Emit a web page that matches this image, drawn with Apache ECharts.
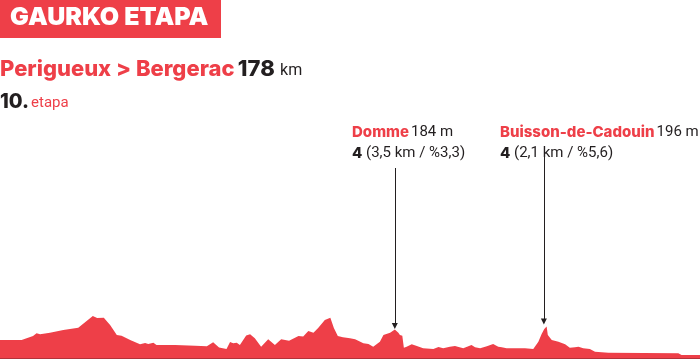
<!DOCTYPE html>
<html>
<head>
<meta charset="utf-8">
<script src="https://cdn.jsdelivr.net/npm/echarts@6/dist/echarts.min.js"></script>
<style>html,body{margin:0;padding:0;background:#fff}#c{width:700px;height:360px}</style>
</head>
<body>
<div id="c"></div>
<script>
// Stage profile: distance (km) and elevation (m)
var km = [0, 5.5, 8.4, 9.3, 10.2, 12.7, 16.1, 19.9, 23.6, 24.7, 26.4, 28.0, 29.7, 30.9, 33.1, 35.6, 36.9, 37.7, 39.0, 39.8,
  44.5, 49.6, 52.6, 54.2, 55.7, 57.6, 58.5, 59.3, 60.2, 61.0, 62.6, 63.6, 64.8, 66.4, 68.2, 69.9, 71.5, 73.5, 75.9, 77.1,
  78.4, 79.7, 80.9, 82.6, 84.0, 84.9, 85.9, 87.2, 89.0, 90.3, 92.4, 93.7, 94.9, 96.6, 97.5, 99.2, 100.4, 101.3, 101.7, 102.3,
  102.7, 103.4, 104.7, 106.0, 107.6, 110.2, 111.5, 112.7, 114.4, 115.7, 117.8, 119.9, 120.8, 122.1, 123.8, 125.4, 126.7, 127.6, 128.0, 128.8,
  133.5, 135.6, 136.9, 137.7, 138.4, 139.0, 139.3, 140.3, 142.0, 143.7, 144.9, 146.2, 147.1, 148.3, 150.0, 151.3, 154.7, 172.5, 173.3, 178];
var elevation = [142, 142, 158, 169, 165, 171, 182, 191, 238, 230, 231, 202, 162, 159, 142, 125, 130, 126, 131, 122,
  122, 119, 117, 133, 112, 106, 134, 129, 131, 122, 160, 165, 149, 115, 145, 122, 145, 139, 158, 156,
  178, 171, 190, 222, 231, 190, 158, 153, 149, 145, 129, 126, 115, 135, 162, 171, 184, 171, 162, 159,
  111, 115, 125, 118, 109, 106, 114, 109, 115, 118, 109, 122, 113, 109, 117, 126, 115, 113, 118, 109,
  109, 106, 135, 165, 186, 196, 162, 142, 135, 125, 111, 113, 115, 109, 106, 95, 91, 89, 82, 82];

// Climbs
var climbNames = ['Domme', 'Buisson-de-Cadouin'];
var climbAlt = ['184 m', '196 m'];
var climbCat = ['4', '4'];
var climbInfo = ['(3,5 km / %3,3)', '(2,1 km / %5,6)'];
var climbKm = [100.4, 138.3];
var arrowFrom = [830, 882];
var arrowTo = [198, 216];

var RED = '#ee3f48', DARK = '#231f20';

var chart = echarts.init(document.getElementById('c'), null, {renderer: 'canvas'});
var data = km.map(function (k, i) { return [k, elevation[i]]; });

var markLines = climbKm.map(function (k, i) {
  return [{coord: [k, arrowFrom[i]]}, {coord: [k, arrowTo[i]]}];
});

var labelX = [352, 500];
var graphics = [
  {type: 'rect', left: 0, top: 0, shape: {width: 221, height: 38}, style: {fill: RED}},
  {type: 'text', left: 10, top: 5, style: {text: 'GAURKO ETAPA', fill: '#fff', font: '900 25px Inter'}},
  {type: 'text', left: 0, top: 58, style: {
    text: '{a|Perigueux > Bergerac} {b|178} {c|km}',
    rich: {
      a: {fill: RED, font: '800 22px Inter'},
      b: {fill: DARK, font: '800 22px Inter'},
      c: {fill: DARK, font: '400 16px Roboto', padding: [3, 0, 0, 2]}
    }}},
  {type: 'text', left: 0, top: 92, style: {
    text: '{a|10.}{b|etapa}',
    rich: {
      a: {fill: DARK, font: '800 20px Inter'},
      b: {fill: RED, font: '400 15px Roboto', padding: [3, 0, 0, 2]}
    }}}
];
climbNames.forEach(function (n, i) {
  graphics.push({type: 'text', left: labelX[i], top: 125, style: {
    text: '{a|' + n + '}{b|' + climbAlt[i] + '}',
    rich: {
      a: {fill: RED, font: '800 15px Inter'},
      b: {fill: DARK, font: '400 15px Roboto', padding: [0, 0, 0, 2]}
    }}});
  graphics.push({type: 'text', left: labelX[i], top: 146, style: {
    text: '{a|' + climbCat[i] + '}{b| ' + climbInfo[i] + '}',
    rich: {
      a: {fill: DARK, font: '800 15px Inter'},
      b: {fill: DARK, font: '400 15px Roboto'}
    }}});
});

chart.setOption({
  animation: false,
  grid: {left: 0, right: 0, top: 0, bottom: 2, containLabel: false},
  xAxis: {type: 'value', min: 0, max: 178, show: true,
    axisLine: {show: true, onZero: false, lineStyle: {color: '#b3323a', width: 2}},
    axisTick: {show: false}, axisLabel: {show: false}, splitLine: {show: false}},
  yAxis: {type: 'value', min: 70, max: 1502, show: false, splitLine: {show: false}},
  graphic: graphics,
  series: [{
    type: 'line',
    data: data,
    symbol: 'none',
    lineStyle: {width: 0, color: RED},
    areaStyle: {color: RED, opacity: 1},
    markLine: {
      silent: true,
      symbol: ['none', 'triangle'],
      symbolSize: [6, 6],
      label: {show: false},
      lineStyle: {color: DARK, width: 1, type: 'solid'},
      data: markLines
    }
  }]
});
</script>
</body>
</html>
